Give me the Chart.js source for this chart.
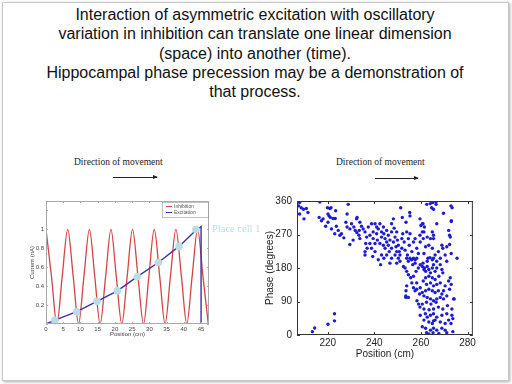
<!DOCTYPE html>
<html>
<head>
<meta charset="utf-8">
<script src="https://cdn.jsdelivr.net/npm/chart.js@4/dist/chart.umd.min.js"></script>
<style>
body{margin:0;width:512px;height:384px;background:#fff;position:relative;overflow:hidden;font-family:"Liberation Sans",Arial,sans-serif}
#slide{position:absolute;left:2px;top:2px;width:505px;height:377px;border:1px solid #c8c8c8;box-shadow:1px 1px 3px #aaa;background:#fff}
#title{position:absolute;left:0;top:5px;width:510px;text-align:center;font-size:16px;line-height:19.3px;color:#111}
.dir{position:absolute;font-family:"Liberation Serif",serif;font-size:9.5px;color:#222;white-space:nowrap}
.arrow{position:absolute;height:1px;background:#222}
.arrow:after{content:"";position:absolute;right:-1px;top:-2px;border-left:5px solid #222;border-top:2.5px solid transparent;border-bottom:2.5px solid transparent}
#cell{position:absolute;left:212px;top:223px;font-family:"Liberation Serif",serif;font-size:10.5px;color:#bcdbe4;white-space:nowrap}
canvas{position:absolute}
</style>
</head>
<body>
<div id="slide"></div>
<div id="title">Interaction of asymmetric excitation with oscillatory<br>variation in inhibition can translate one linear dimension<br>(space) into another (time).<br>Hippocampal phase precession may be a demonstration of<br>that process.</div>
<div class="dir" style="left:74px;top:157px">Direction of movement</div>
<div class="arrow" style="left:113px;top:177px;width:44px"></div>
<div class="dir" style="left:336px;top:157px">Direction of movement</div>
<div class="arrow" style="left:375px;top:178px;width:43px"></div>
<canvas id="model" width="186" height="145" style="left:28px;top:195px"></canvas>
<div id="cell">Place cell 1</div>
<canvas id="phase" width="216" height="172" style="left:262px;top:190px"></canvas>
<script>
// left panel: model currents vs position
const inhibX = [0, 1.6, 3.15, 4.7, 6.3, 7.9, 9.45, 11, 12.6, 14.15, 15.7, 17.3, 18.85, 20.4, 22, 23.55, 25.1, 26.7, 28.3, 29.85, 31.4, 33, 34.55, 36.1, 37.7, 39.3, 40.85, 42.4, 44, 45.55, 47.1];
const inhibY = [1, 0.5, 0, 0.5, 1, 0.5, 0, 0.5, 1, 0.5, 0, 0.5, 1, 0.5, 0, 0.5, 1, 0.5, 0, 0.5, 1, 0.5, 0, 0.5, 1, 0.5, 0, 0.5, 1, 0.5, 0];
const excX = [0, 2.6, 8.9, 14.8, 20.7, 26.5, 32.6, 38.6, 43.5, 45, 45];
const excY = [0, 0.04, 0.13, 0.24, 0.35, 0.5, 0.65, 0.82, 0.99, 1.03, 0];
const cellX = [2.6, 8.9, 14.8, 20.7, 26.5, 32.6, 38.6, 43.5];
const cellY = [0.04, 0.13, 0.24, 0.35, 0.5, 0.65, 0.82, 1.0];

// right panel: spike phase vs position (cm, degrees)
const spikes = [
[207.9,356],[207.5,347],[208.6,342],[209.6,338],[210.8,340],[211.5,329],[207.9,325],[209.8,312],[216.6,357],[216.3,316],[217.3,307],[218,312],
[219.9,342],[220.9,340],[221.4,342],[220.1,325],[220.6,320],[221.1,316],[222.3,313],[223.2,313],[223.4,334],[220.1,303],[219.1,292],[221.6,285],[223.7,292],[223,272],[224.5,281],[225.2,268],[225.9,272],[226.9,261],
[228.8,351],[228.3,325],[227.8,303],[228.3,290],[229.5,285],[230.2,299],[231.2,290],[232.4,312],[232.6,316],[233.8,303],[231.8,281],[232.5,275],[233.4,268],[229.5,243],[230.9,255],[233.8,259],[233.5,281],[234.5,292],[235.2,285],
[236,277],[236.7,263],[237.4,290],[238.1,268],[238.8,299],[239.5,277],[240.3,299],[236.3,246],[236.9,233],[236,224],[236,215],[238.1,246],[239.5,259],[240.3,246],[238.8,233],[241,290],[241,272],[239.3,211],[240.3,224],[241.7,285],[241.3,255],
[242.4,299],[243.1,277],[243.9,290],[244.1,272],[243.1,263],[244.6,259],[245.3,281],[246,268],[245.3,250],[243.9,241],[242.4,246],[244.6,233],[246,241],[246.7,255],[247.4,277],[247.4,233],[248.2,250],[246.4,224],[245.3,215],[243.1,215],[244.1,206],[242.7,189],[241.7,202],[247.4,299],[248.2,312],[248.5,287],[248.9,263],[249.6,277],[249.9,255],[249.3,237],[250.3,241],[249.6,224],[250.7,224],[248.9,215],[250.3,206],[251,215],[247.4,206],[246.7,193],[249.6,193],[251,198],[251.8,259],[252.2,272],[252.8,250],[251.8,233],[253.2,228],[251.3,342],[252,316],[253.6,303],
[253.9,277],[254.6,259],[255.3,272],[255,241],[254.2,215],[253.9,206],[254.6,198],[255.3,206],[256,202],[256.8,206],[257.5,202],[258.2,206],[256.5,189],[257.5,193],[255.3,320],[255.2,329],[256.1,224],[256.8,250],[257.5,259],[258.2,233],[258.9,219],[259.7,250],[260,294],[260.9,299],[261.5,290],[260.6,277],[259.6,268],[259.6,312],
[253.2,180],[253.9,171],[252.5,184],[254.6,162],[255.6,154],[256.8,158],[257.9,171],[258.9,180],[259.7,189],[260.9,193],[261.5,180],[258.2,140],[256.1,140],[253.9,132],[253.6,119],[253.5,105],[253.5,101],[254.6,101],[256.8,127],[257.5,119],[258.2,123],
[262.5,351],[264,353],[265.1,356],[266.5,358],[266.5,351],[264.6,342],[265.4,338],[269.7,327],[272.9,347],[273.4,342],
[260.6,299],[261.3,277],[262.7,263],[264.1,259],[263.4,241],[264.9,233],[262,237],[261,259],[264.9,277],[265.4,268],[261.3,219],[263,206],[263.9,208],[264.9,202],[265.4,206],[262.7,198],[266.1,215],[266.8,198],[268.3,206],[267.5,224],[269,241],[269.4,233],[270.4,215],[271.1,198],[273,219],[272.3,268],[272.6,263],[271.9,281],[273,305],[273.1,307],[266.8,299],[265.4,259],
[260.6,184],[261.3,176],[262,171],[262.7,184],[263.4,176],[264.1,167],[264.9,180],[265.4,189],[266.1,171],[266.8,180],[268.3,189],[269,176],[269.4,167],[267.7,158],[266.1,149],[264.9,154],[263.4,158],[262,154],[261,145],[262.4,136],[264.1,140],[265.4,132],[266.8,136],[268.3,140],[270.4,132],[271.9,145],[272.3,123],[269.7,119],[267.5,119],[266.1,114],[264.9,119],[263.4,123],[262,119],[260.6,114],[259.7,127],[259.4,110],[261.3,105],[262.7,101],[264.1,97],[265.4,92],[266.8,97],[268.3,101],[269.7,97],[271.1,105],[274,97],[269,110],[266.5,88],[264.3,83],[262.4,88],[260.6,83],[259.6,75],[261.3,70],[263.5,68],[265.4,70],[267.5,75],[269.4,70],[271.4,79],[273.3,70],[258.3,92],[259,83],
[259.7,53],[261.9,57],[264.1,53],[265.4,57],[266.8,48],[269,53],[271.1,57],[273.3,53],[273.7,44],[261.3,40],[263.4,35],[264.9,31],[266.1,40],[268.3,35],[270.4,31],[271.9,40],[272.9,31],[260.6,22],[262,18],[264.1,13],[265.4,18],[266.8,13],[269,18],[270.4,13],[262.4,6],[263.4,3],[265.2,6],[267.7,4],[271.1,6],[273.7,9],[265.4,38],[262.7,48],
[275.5,206],[274.3,97],[272.6,154],[273,136],[271.1,237],[272.3,243],
[213.4,9],[214.4,19],[220.1,29],[222.9,57],[222.9,38]
];

const pts = (xs, ys) => xs.map((x, i) => ({x: x, y: ys[i]}));

// frame box with inward tick marks, plus optional boxed legend
const boxTicks = {
  id: 'boxTicks',
  afterDraw(chart, args, opts) {
    const ctx = chart.ctx, a = chart.chartArea, sx = chart.scales.x, sy = chart.scales.y;
    const L = opts.len;
    ctx.save();
    ctx.strokeStyle = opts.color;
    ctx.lineWidth = 1;
    ctx.strokeRect(a.left + 0.5, a.top + 0.5, a.width - 1, a.height - 1);
    ctx.beginPath();
    sx.ticks.forEach(t => {
      const p = Math.round(sx.getPixelForValue(t.value)) + 0.5;
      ctx.moveTo(p, a.bottom); ctx.lineTo(p, a.bottom - L);
      ctx.moveTo(p, a.top); ctx.lineTo(p, a.top + L);
    });
    sy.ticks.forEach(t => {
      const p = Math.round(sy.getPixelForValue(t.value)) + 0.5;
      ctx.moveTo(a.left, p); ctx.lineTo(a.left + L, p);
      ctx.moveTo(a.right, p); ctx.lineTo(a.right - L, p);
    });
    ctx.stroke();
    if (opts.legend) {
      const items = chart.data.datasets.filter(d => d.inLegend);
      const w = 46, h = 15, x = a.right - w - 1, y = a.top + 1;
      ctx.fillStyle = '#fff';
      ctx.fillRect(x, y, w, h);
      ctx.strokeStyle = '#999';
      ctx.lineWidth = 0.6;
      ctx.strokeRect(x + 0.5, y + 0.5, w, h);
      ctx.font = '5px "Liberation Sans", Arial';
      ctx.textBaseline = 'middle';
      items.forEach((d, i) => {
        const yy = y + 4.5 + i * 6;
        ctx.strokeStyle = d.borderColor;
        ctx.lineWidth = 1;
        ctx.beginPath(); ctx.moveTo(x + 4, yy); ctx.lineTo(x + 10, yy); ctx.stroke();
        ctx.fillStyle = '#555';
        ctx.fillText(d.label, x + 12, yy);
      });
    }
    ctx.restore();
  }
};

const noGrid = {display: false, drawTicks: false};

new Chart(document.getElementById('model'), {
  type: 'scatter',
  data: {
    datasets: [{
      label: 'Place cell 1',
      data: pts(cellX, cellY),
      backgroundColor: '#b9dce6',
      borderWidth: 0,
      pointRadius: 3.8,
      order: 0
    }, {
      label: 'Inhibition',
      inLegend: true,
      data: pts(inhibX, inhibY),
      showLine: true,
      borderColor: '#d64545',
      borderWidth: 1.3,
      pointRadius: 0,
      cubicInterpolationMode: 'monotone',
      order: 2
    }, {
      label: 'Excitation',
      inLegend: true,
      data: pts(excX, excY),
      showLine: true,
      borderColor: '#3a32a8',
      borderWidth: 1.4,
      pointRadius: 0,
      order: 1
    }]
  },
  options: {
    responsive: false,
    animation: false,
    layout: {padding: {top: 6, right: 5, left: 0, bottom: 0}},
    plugins: {
      legend: {display: false},
      tooltip: {enabled: false},
      boxTicks: {len: 2, color: '#aaa', legend: true}
    },
    scales: {
      x: {
        type: 'linear', min: 0, max: 47.3,
        grid: noGrid, border: {display: false},
        ticks: {stepSize: 5, includeBounds: false, padding: 2, color: '#444', font: {size: 6}},
        title: {display: true, text: 'Position (cm)', color: '#444', font: {size: 6}, padding: {top: 0, bottom: 2}},
        afterFit: s => { s.height = 16; }
      },
      y: {
        min: 0, max: 1.3,
        grid: noGrid, border: {display: false},
        ticks: {stepSize: 0.2, includeBounds: false, padding: 2, color: '#444', font: {size: 6},
          callback: v => (v > 0.01 && v < 1.05) ? String(+v.toFixed(1)) : ''},
        title: {display: true, text: 'Current (nA)', color: '#444', font: {size: 6}, padding: {top: 1, bottom: 0}},
        afterFit: s => { s.width = 18; }
      }
    }
  },
  plugins: [boxTicks]
});

new Chart(document.getElementById('phase'), {
  type: 'scatter',
  data: {
    datasets: [{
      label: 'Spikes',
      data: spikes.map(p => ({x: p[0], y: p[1]})),
      backgroundColor: '#1c1cd6',
      borderWidth: 0,
      pointRadius: 1.7
    }]
  },
  options: {
    responsive: false,
    animation: false,
    layout: {padding: {top: 8, right: 5, left: 0, bottom: 0}},
    plugins: {
      legend: {display: false},
      tooltip: {enabled: false},
      boxTicks: {len: 3, color: '#333'}
    },
    scales: {
      x: {
        min: 206.8, max: 282.3,
        grid: noGrid, border: {display: false},
        ticks: {stepSize: 20, includeBounds: false, padding: 2, color: '#222', font: {size: 10}},
        title: {display: true, text: 'Position (cm)', color: '#222', font: {size: 10}, padding: {top: 0, bottom: 2}},
        afterFit: s => { s.height = 27; }
      },
      y: {
        min: 0, max: 360,
        grid: noGrid, border: {display: false},
        ticks: {stepSize: 90, padding: 5, color: '#222', font: {size: 10}},
        title: {display: true, text: 'Phase (degrees)', color: '#222', font: {size: 10}, padding: {top: 2, bottom: 0}},
        afterFit: s => { s.width = 35; }
      }
    }
  },
  plugins: [boxTicks]
});
</script>
</body>
</html>
